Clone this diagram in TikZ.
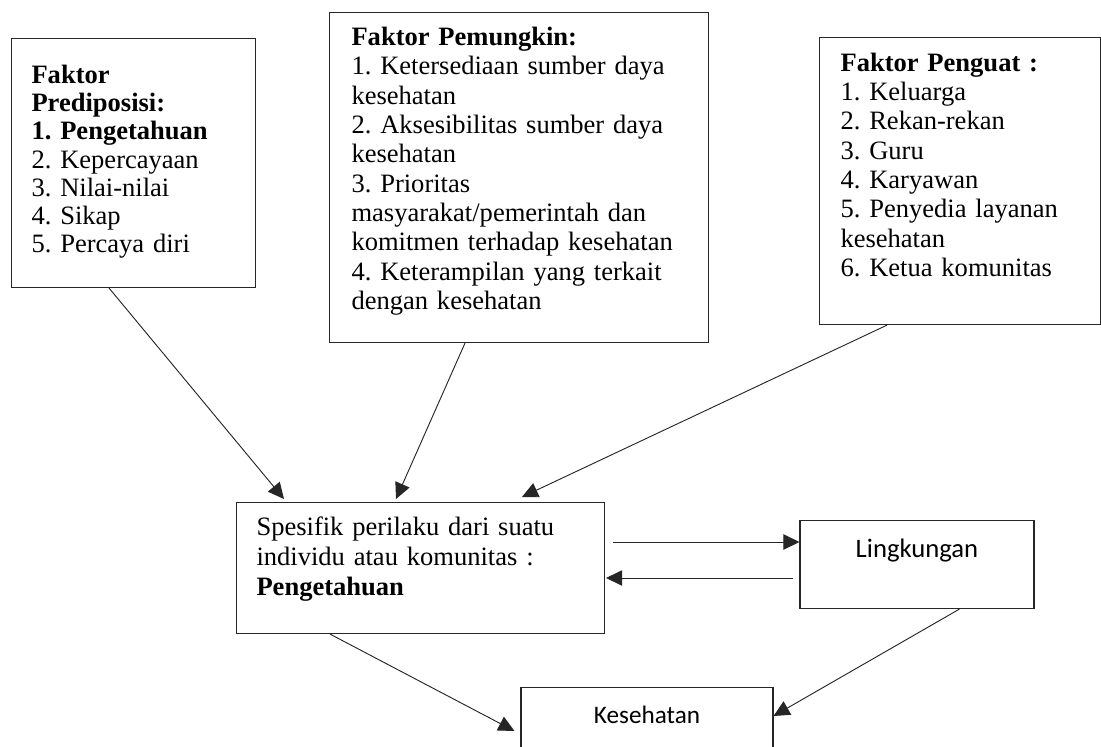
\documentclass[tikz,border=0pt]{standalone}
\usepackage{fontspec}
\setmainfont{Liberation Serif}
\newfontfamily\sanf{Carlito}
\usetikzlibrary{arrows.meta,calc}
\frenchspacing
\begin{document}
\begin{tikzpicture}[x=0.75pt,y=-0.75pt,
  box/.style={draw=black!85, line width=0.8pt, inner ysep=0pt, align=left, anchor=north west, font=\frenchspacing\fontsize{19.9}{22}\selectfont},
  sbox/.style={draw=black!85, line width=0.8pt, inner sep=0pt, align=center, anchor=north},
  arr/.style={-{Triangle[length=12pt,width=11.5pt]}, line width=0.7pt, draw=black!85}]
\useasboundingbox (0,0) rectangle (1101,747);

\node[box, inner xsep=15pt, text width=153pt, text height=33.5pt, text depth=153.2pt,
  font=\frenchspacing\fontsize{19.9}{21.2}\selectfont] (b1) at (11,38)
  {\textbf{Faktor}\\\textbf{Prediposisi:}\\\textbf{1. Pengetahuan}\\2. Kepercayaan\\3. Nilai-nilai\\4. Sikap\\5. Percaya diri};

\node[box, inner xsep=16.5pt, text width=251.25pt, text height=24.75pt, text depth=222.75pt] (b2) at (329,12)
  {\textbf{Faktor Pemungkin:}\\1. Ketersediaan sumber daya\\kesehatan\\2. Aksesibilitas sumber daya\\kesehatan\\3. Prioritas\\masyarakat/pemerintah dan\\komitmen terhadap kesehatan\\4. Keterampilan yang terkait\\dengan kesehatan};

\node[box, inner xsep=15.75pt, text width=179.25pt, text height=25.3pt, text depth=190pt] (b3) at (819,37)
  {\textbf{Faktor Penguat :}\\1. Keluarga\\2. Rekan-rekan\\3. Guru\\4. Karyawan\\5. Penyedia layanan\\kesehatan\\6. Ketua komunitas};

\node[box, inner xsep=15pt, text width=246pt, text height=24.75pt, text depth=73.5pt,
  font=\frenchspacing\fontsize{19.9}{22.5}\selectfont] (b4) at (236,502)
  {Spesifik perilaku dari suatu\\individu atau komunitas :\\\textbf{Pengetahuan}};

\node[sbox, minimum width=175.5pt, text height=27.5pt, text depth=38.5pt,
  font=\sanf\fontsize{20}{22}\selectfont] (lk) at (917,520) {Lingkungan};
\node[sbox, minimum width=189pt, text height=27pt, text depth=27.75pt,
  font=\sanf\fontsize{18.9}{22}\selectfont] (ks) at (647,687) {Kesehatan};

\draw[arr] ($(b1.south west)+(98,0)$) -- ($(b4.north west)+(48,-3)$);
\draw[arr] ($(b2.south west)+(136,0)$) -- ($(b4.north west)+(160,-3)$);
\draw[arr] ($(b3.south west)+(68,0)$) -- ($(b4.north west)+(286,-5)$);
\draw[arr] ($(b4.north east)+(8,40)$) -- ($(lk.north west)+(0,22)$);
\draw[arr] ($(lk.north west)+(-6,58)$) -- ($(b4.north east)+(1,76)$);
\draw[arr] ($(b4.south west)+(94,0)$) -- ($(ks.north west)+(-6,44)$);
\draw[arr] ($(lk.south west)+(160,0)$) -- ($(ks.north east)+(0,29)$);
\end{tikzpicture}
\end{document}
